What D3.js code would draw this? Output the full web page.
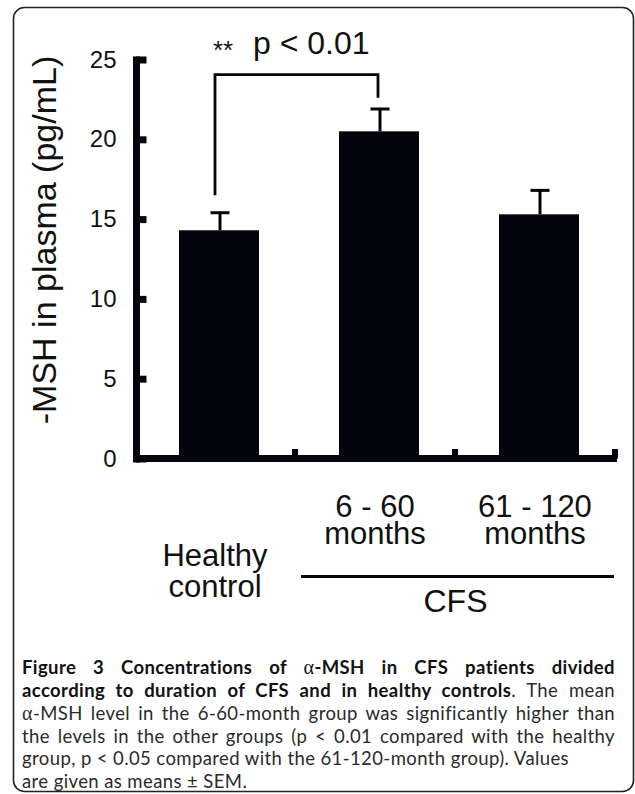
<!DOCTYPE html>
<html><head><meta charset="utf-8">
<script src="https://cdn.jsdelivr.net/npm/d3@7"></script>
<style>html,body{margin:0;padding:0;background:#fff;}svg{display:block;}</style>
</head><body>
<svg id="c" width="635" height="794"></svg>
<script>
// ---- data ----
const categories = ["Healthy control", "6 - 60 months", "61 - 120 months"];
const categoryLines = [["Healthy", "control"], ["6 - 60", "months"], ["61 - 120", "months"]];
const groupLabel = "CFS";
const means = [14.3, 20.5, 15.3];
const sems = [1.1, 1.4, 1.5];
const yTicks = [0, 5, 10, 15, 20, 25];
const yLabel = "-MSH in plasma (pg/mL)";
const sigText = "p < 0.01";
const sigStars = "**";

const svg = d3.select("#c");
const ink = "#03040c";
const font = "'Liberation Sans', Arial, sans-serif";

// frame
svg.append("rect").attr("x", 13.5).attr("y", 7.5).attr("width", 620).attr("height", 784)
  .attr("rx", 11).attr("fill", "none").attr("stroke", "#222").attr("stroke-width", 1.6);

const y = d3.scaleLinear().domain([0, 25]).range([458.5, 59.5]);
const xAxisBand = d3.scaleBand().domain(categories).range([134, 614]);
const x = d3.scaleBand().domain(categories).range([134, 614]).paddingInner(0.5).paddingOuter(0.25);
const barShift = 5;

// bars
svg.append("g").selectAll("rect").data(categories).join("rect")
  .attr("x", d => x(d) + barShift)
  .attr("width", x.bandwidth())
  .attr("y", (d, i) => y(means[i]))
  .attr("height", (d, i) => y(0) - y(means[i]))
  .attr("fill", ink);

// error bars
const eg = svg.append("g").attr("stroke", ink).attr("stroke-width", 3);
categories.forEach((c, i) => {
  const cx = x(c) + barShift + x.bandwidth() / 2 + 1;
  eg.append("line").attr("x1", cx).attr("x2", cx).attr("y1", y(means[i])).attr("y2", y(means[i] + sems[i]));
  eg.append("line").attr("x1", cx - 9.5).attr("x2", cx + 9.5).attr("y1", y(means[i] + sems[i])).attr("y2", y(means[i] + sems[i]));
});

// y axis
const yAxis = d3.axisLeft(y).tickValues(yTicks).tickSizeInner(-10.5).tickSizeOuter(0).tickPadding(19.5);
const ga = svg.append("g").attr("transform", "translate(136,0)").call(yAxis);
ga.select(".domain").attr("stroke", ink).attr("stroke-width", 7).attr("stroke-linecap", "square");
ga.selectAll(".tick line").attr("stroke", ink).attr("stroke-width", 7);
ga.selectAll(".tick text").attr("font-family", font).attr("font-size", 24).attr("fill", "#111");

// x baseline + category ticks
svg.append("line").attr("x1", 133).attr("x2", 617).attr("y1", y(0)).attr("y2", y(0))
  .attr("stroke", ink).attr("stroke-width", 7);
svg.append("g").selectAll("line").data(categories).join("line")
  .attr("x1", d => xAxisBand(d) + xAxisBand.bandwidth() + 1)
  .attr("x2", d => xAxisBand(d) + xAxisBand.bandwidth() + 1)
  .attr("y1", y(0)).attr("y2", 449)
  .attr("stroke", ink).attr("stroke-width", 6);

// category labels
const lineBase = [[566, 597], [517, 544], [517, 544]];
categories.forEach((c, i) => {
  const cx = x(c) + barShift + x.bandwidth() / 2 - 4;
  categoryLines[i].forEach((t, j) => {
    svg.append("text").attr("x", cx).attr("y", lineBase[i][j]).attr("text-anchor", "middle")
      .attr("font-family", font).attr("font-size", 31).attr("fill", "#111").text(t);
  });
});
// CFS group line
const gx1 = 301, gx2 = 614;
svg.append("line").attr("x1", gx1).attr("x2", gx2).attr("y1", 576.5).attr("y2", 576.5)
  .attr("stroke", ink).attr("stroke-width", 3);
svg.append("text").attr("x", (gx1 + gx2) / 2 - 2).attr("y", 612).attr("text-anchor", "middle")
  .attr("font-family", font).attr("font-size", 32).attr("fill", "#111").text(groupLabel);

// y label
svg.append("text").attr("transform", "translate(56,240) rotate(-90)").attr("text-anchor", "middle")
  .attr("font-family", font).attr("font-size", 34).attr("fill", "#111").text(yLabel);

// significance bracket
const bx1 = x(categories[0]) + barShift + x.bandwidth() / 2 - 4;
const bx2 = x(categories[1]) + barShift + x.bandwidth() / 2 - 1;
svg.append("path")
  .attr("d", `M${bx1},${y(16.5)}V${y(24.05)}H${bx2}V${y(22.6)}`)
  .attr("fill", "none").attr("stroke", ink).attr("stroke-width", 2.8);
svg.append("text").attr("x", 213).attr("y", 59).attr("font-family", font).attr("font-size", 26)
  .attr("fill", "#111").text(sigStars);
svg.append("text").attr("x", 253).attr("y", 54).attr("font-family", font).attr("font-size", 32)
  .attr("fill", "#111").text(sigText);

// caption
const capFont = "Lato, 'Open Sans', sans-serif";
const capX = 22, capW = 593;
const captionLines = [
  {y: 674, justify: true, parts: [{t: "Figure 3 Concentrations of ", b: 1}, {t: "α", b: 1, a: 1}, {t: "-MSH in CFS patients divided", b: 1}]},
  {y: 697, justify: true, parts: [{t: "according to duration of CFS and in healthy controls", b: 1}, {t: ". The mean"}]},
  {y: 720, justify: true, parts: [{t: "α", a: 1}, {t: "-MSH level in the 6-60-month group was significantly higher than"}]},
  {y: 742.5, justify: true, parts: [{t: "the levels in the other groups (p < 0.01 compared with the healthy"}]},
  {y: 765, justify: false, parts: [{t: "group, p < 0.05 compared with the 61-120-month group). Values"}]},
  {y: 787.5, justify: false, parts: [{t: "are given as means ± SEM."}]}
];
captionLines.forEach(L => {
  const t = svg.append("text").attr("x", capX).attr("y", L.y).attr("font-family", capFont)
    .attr("font-size", 18.5).attr("letter-spacing", 0.4).attr("fill", "#2a2a2a");
  L.parts.forEach(p => {
    const s = t.append("tspan").text(p.t);
    if (p.b) s.attr("font-weight", "bold").attr("fill", "#111");
    if (p.a) s.attr("font-family", "'Liberation Serif', serif").attr("font-size", 20).attr("font-weight", "normal");
  });
  if (L.justify) {
    const w = t.node().getComputedTextLength();
    const n = L.parts.map(p => p.t).join("").split(" ").length - 1;
    t.attr("word-spacing", (capW - w) / n);
  }
});
</script>
</body></html>
